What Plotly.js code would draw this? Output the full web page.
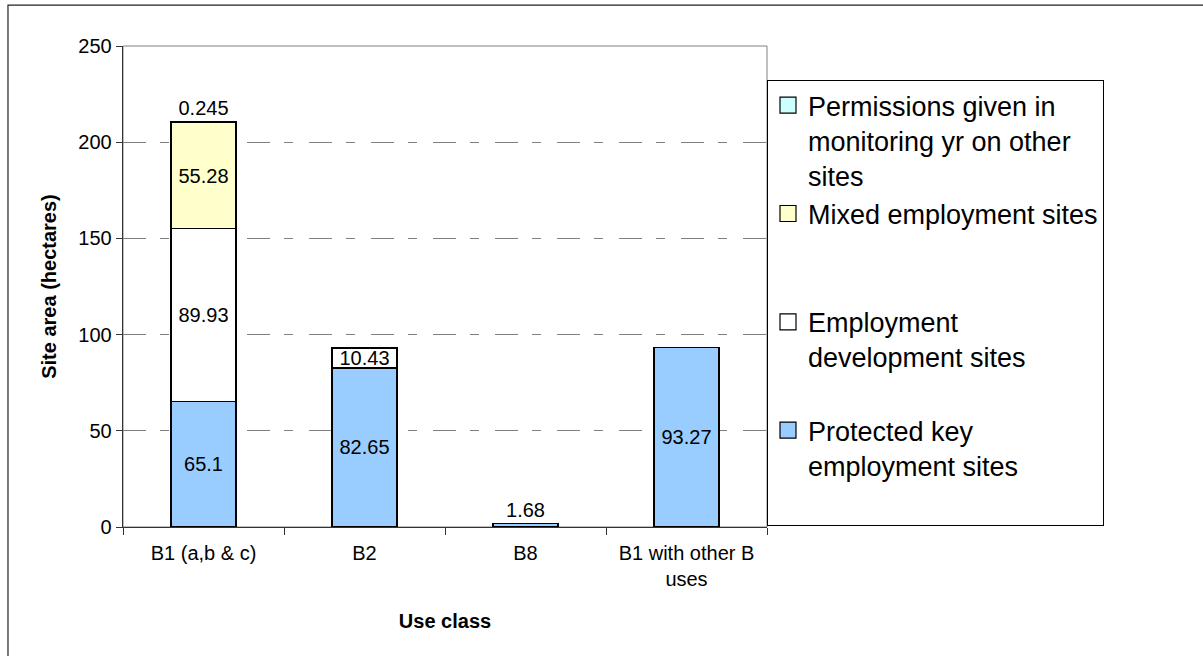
<!DOCTYPE html>
<html>
<head>
<meta charset="utf-8">
<script src="https://cdn.plot.ly/plotly-3.0.1.min.js"></script>
<style>
  html, body { margin: 0; padding: 0; background: #ffffff; }
  #chart { width: 1203px; height: 656px; }
</style>
</head>
<body>
<div id="chart"></div>
<script>
// Use classes along the x axis
var categories = ['B1 (a,b & c)', 'B2', 'B8', 'B1 with other B<br>uses'];

// Site area (hectares) per land type; null where a use class has no such land
var protectedKey   = [65.1, 82.65, 1.68, 93.27];
var employmentDev  = [89.93, 10.43, null, null];
var mixedEmploy    = [55.28, null, null, null];
var permissions    = [0.245, null, null, null];

// Legend labels, padded to equal height so the entries spread down the box
var seriesNames = [
  'Protected key<br>employment sites<br>\u00a0',
  'Employment<br>development sites<br>\u00a0',
  'Mixed employment sites<br>\u00a0<br>\u00a0',
  'Permissions given in<br>monitoring yr on other<br>sites'
];
var seriesColors = ['#99CCFF', '#FFFFFF', '#FFFFCC', '#CCFFFF'];

var FONT = 'Liberation Sans, Arial, sans-serif';

function labels(vals) {
  return vals.map(function (v) { return v == null ? '' : String(v); });
}

function barTrace(vals, i, positions) {
  return {
    type: 'bar',
    x: categories,
    y: vals,
    name: seriesNames[i],
    legendgroup: 's' + i,
    showlegend: false,
    text: labels(vals),
    textposition: positions,
    insidetextanchor: 'middle',
    textangle: 0,
    constraintext: 'none',
    cliponaxis: false,
    textfont: { family: FONT, size: 20, color: '#000000' },
    insidetextfont: { family: FONT, size: 20, color: '#000000' },
    outsidetextfont: { family: FONT, size: 20, color: '#000000' },
    marker: { color: seriesColors[i], line: { color: '#000000', width: 1.3 } },
    hoverinfo: 'x+y+name'
  };
}

// Legend key entries: larger square swatches than the default bar key
function legendKey(i) {
  return {
    type: 'scatter',
    mode: 'markers',
    x: [null],
    y: [null],
    name: seriesNames[i],
    legendgroup: 's' + i,
    showlegend: true,
    marker: {
      symbol: 'square',
      size: 16,
      color: seriesColors[i],
      line: { color: '#000000', width: 1.2 }
    },
    hoverinfo: 'skip'
  };
}

var data = [
  barTrace(protectedKey, 0, ['inside', 'inside', 'outside', 'inside']),
  barTrace(employmentDev, 1, 'inside'),
  barTrace(mixedEmploy, 2, 'inside'),
  barTrace(permissions, 3, 'outside'),
  legendKey(0), legendKey(1), legendKey(2), legendKey(3)
];

var layout = {
  width: 1203,
  height: 656,
  margin: { l: 123, r: 436, t: 46, b: 129, pad: 0 },
  paper_bgcolor: '#ffffff',
  plot_bgcolor: '#ffffff',
  barmode: 'stack',
  bargap: 0.596,
  font: { family: FONT, size: 20, color: '#000000' },
  showlegend: true,
  legend: {
    x: 1.0, xanchor: 'left',
    y: 0.929, yanchor: 'top',
    traceorder: 'reversed',
    tracegroupgap: 0,
    valign: 'top',
    itemsizing: 'trace',
    bgcolor: '#ffffff',
    bordercolor: '#000000',
    borderwidth: 1,
    font: { family: FONT, size: 27, color: '#000000' }
  },
  xaxis: {
    type: 'category',
    tickson: 'boundaries',
    ticks: 'outside',
    ticklen: 7,
    tickcolor: '#333333',
    tickwidth: 1,
    ticklabelstandoff: 8,
    showline: true,
    linecolor: '#333333',
    linewidth: 1.3,
    showgrid: false,
    zeroline: false,
    tickfont: { family: FONT, size: 20, color: '#000000' },
    title: {
      text: '<b>Use class</b>',
      font: { family: FONT, size: 20, color: '#000000' },
      standoff: 24
    }
  },
  yaxis: {
    range: [0, 250],
    tick0: 0,
    dtick: 50,
    ticks: 'outside',
    ticklen: 6,
    tickcolor: '#333333',
    tickwidth: 1,
    showline: true,
    linecolor: '#333333',
    linewidth: 1.3,
    showgrid: true,
    gridcolor: '#808080',
    gridwidth: 1,
    griddash: '23px,14px,9px,16px',
    zeroline: false,
    tickfont: { family: FONT, size: 20, color: '#000000' },
    title: {
      text: '<b>Site area (hectares)</b>',
      font: { family: FONT, size: 20, color: '#000000' },
      standoff: 16
    }
  },
  shapes: [
    // plot-area frame (top and right edges)
    {
      type: 'rect', xref: 'paper', yref: 'paper',
      x0: 0, x1: 1, y0: 0, y1: 1,
      line: { color: '#808080', width: 1 },
      layer: 'below'
    },
    // outer chart border
    {
      type: 'rect', xref: 'paper', yref: 'paper',
      x0: -0.1786, x1: 1.72, y0: -0.32, y1: 1.085,
      line: { color: '#222222', width: 1.2 },
      layer: 'below'
    }
  ]
};

Plotly.newPlot('chart', data, layout, { staticPlot: true });
</script>
</body>
</html>
